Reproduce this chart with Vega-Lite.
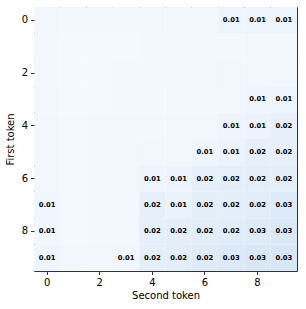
{
  "$schema": "https://vega.github.io/schema/vega-lite/v6.json",
  "autosize": "none",
  "padding": {"left": 34, "top": 7, "right": 9, "bottom": 38},
  "width": 263,
  "height": 264,
  "config": {
    "font": "DejaVu Sans",
    "view": {"stroke": "#333333", "strokeWidth": 1},
    "axis": {"grid": false, "domain": false, "tickColor": "#333333", "tickSize": 3.5, "labelFontSize": 10, "labelColor": "#000000", "titleFontSize": 10, "titleFontWeight": "normal", "titleColor": "#000000", "labelPadding": 3}
  },
  "data": {"values": [
    {"r":0,"c":0,"v":0.0045},{"r":0,"c":1,"v":0.003},{"r":0,"c":2,"v":0.003},{"r":0,"c":3,"v":0.004},{"r":0,"c":4,"v":0.004},{"r":0,"c":5,"v":0.0045},{"r":0,"c":6,"v":0.0048},{"r":0,"c":7,"v":0.009},{"r":0,"c":8,"v":0.01},{"r":0,"c":9,"v":0.01},
    {"r":1,"c":0,"v":0.003},{"r":1,"c":1,"v":0.002},{"r":1,"c":2,"v":0.002},{"r":1,"c":3,"v":0.002},{"r":1,"c":4,"v":0.003},{"r":1,"c":5,"v":0.003},{"r":1,"c":6,"v":0.003},{"r":1,"c":7,"v":0.0035},{"r":1,"c":8,"v":0.004},{"r":1,"c":9,"v":0.004},
    {"r":2,"c":0,"v":0.003},{"r":2,"c":1,"v":0.002},{"r":2,"c":2,"v":0.002},{"r":2,"c":3,"v":0.003},{"r":2,"c":4,"v":0.003},{"r":2,"c":5,"v":0.003},{"r":2,"c":6,"v":0.0035},{"r":2,"c":7,"v":0.004},{"r":2,"c":8,"v":0.004},{"r":2,"c":9,"v":0.0045},
    {"r":3,"c":0,"v":0.004},{"r":3,"c":1,"v":0.002},{"r":3,"c":2,"v":0.002},{"r":3,"c":3,"v":0.003},{"r":3,"c":4,"v":0.003},{"r":3,"c":5,"v":0.004},{"r":3,"c":6,"v":0.004},{"r":3,"c":7,"v":0.0045},{"r":3,"c":8,"v":0.008},{"r":3,"c":9,"v":0.009},
    {"r":4,"c":0,"v":0.004},{"r":4,"c":1,"v":0.002},{"r":4,"c":2,"v":0.003},{"r":4,"c":3,"v":0.003},{"r":4,"c":4,"v":0.003},{"r":4,"c":5,"v":0.004},{"r":4,"c":6,"v":0.0045},{"r":4,"c":7,"v":0.008},{"r":4,"c":8,"v":0.011},{"r":4,"c":9,"v":0.016},
    {"r":5,"c":0,"v":0.004},{"r":5,"c":1,"v":0.002},{"r":5,"c":2,"v":0.003},{"r":5,"c":3,"v":0.003},{"r":5,"c":4,"v":0.004},{"r":5,"c":5,"v":0.0045},{"r":5,"c":6,"v":0.008},{"r":5,"c":7,"v":0.011},{"r":5,"c":8,"v":0.016},{"r":5,"c":9,"v":0.017},
    {"r":6,"c":0,"v":0.004},{"r":6,"c":1,"v":0.002},{"r":6,"c":2,"v":0.003},{"r":6,"c":3,"v":0.004},{"r":6,"c":4,"v":0.009},{"r":6,"c":5,"v":0.011},{"r":6,"c":6,"v":0.016},{"r":6,"c":7,"v":0.018},{"r":6,"c":8,"v":0.019},{"r":6,"c":9,"v":0.02},
    {"r":7,"c":0,"v":0.007},{"r":7,"c":1,"v":0.002},{"r":7,"c":2,"v":0.003},{"r":7,"c":3,"v":0.004},{"r":7,"c":4,"v":0.016},{"r":7,"c":5,"v":0.013},{"r":7,"c":6,"v":0.019},{"r":7,"c":7,"v":0.02},{"r":7,"c":8,"v":0.022},{"r":7,"c":9,"v":0.026},
    {"r":8,"c":0,"v":0.007},{"r":8,"c":1,"v":0.002},{"r":8,"c":2,"v":0.003},{"r":8,"c":3,"v":0.004},{"r":8,"c":4,"v":0.017},{"r":8,"c":5,"v":0.018},{"r":8,"c":6,"v":0.021},{"r":8,"c":7,"v":0.023},{"r":8,"c":8,"v":0.026},{"r":8,"c":9,"v":0.028},
    {"r":9,"c":0,"v":0.008},{"r":9,"c":1,"v":0.003},{"r":9,"c":2,"v":0.004},{"r":9,"c":3,"v":0.007},{"r":9,"c":4,"v":0.018},{"r":9,"c":5,"v":0.02},{"r":9,"c":6,"v":0.024},{"r":9,"c":7,"v":0.027},{"r":9,"c":8,"v":0.029},{"r":9,"c":9,"v":0.031}
  ]},
  "encoding": {
    "x": {"field": "c", "type": "ordinal", "title": "Second token", "scale": {"paddingInner": 0, "paddingOuter": 0}, "axis": {"values": [0,2,4,6,8], "labelAngle": 0, "titlePadding": 3}},
    "y": {"field": "r", "type": "ordinal", "title": "First token", "scale": {"paddingInner": 0, "paddingOuter": 0}, "axis": {"values": [0,2,4,6,8], "titlePadding": 6}}
  },
  "layer": [
    {
      "mark": {"type": "rect", "strokeWidth": 0},
      "encoding": {
        "color": {"field": "v", "type": "quantitative", "scale": {"domain": [0, 0.034], "range": ["#f6faff", "#d5e5f4"]}, "legend": null}
      }
    },
    {
      "transform": [{"filter": "datum.v >= 0.005"}],
      "mark": {"type": "text", "fontSize": 6.8, "fontWeight": "bold", "color": "#000000"},
      "encoding": {
        "text": {"field": "v", "type": "quantitative", "format": ".2f"}
      }
    }
  ]
}
